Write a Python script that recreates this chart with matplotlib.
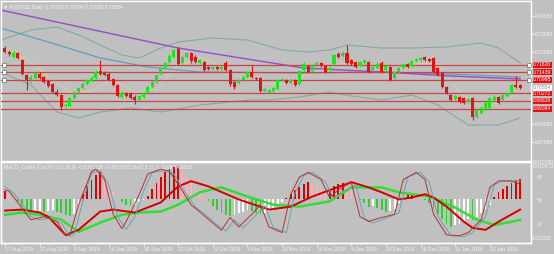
import numpy as np
import matplotlib.pyplot as plt
from matplotlib import transforms

plt.rcParams['font.family'] = ['Liberation Sans', 'DejaVu Sans']

# ---- daily bars AUDUSD ----
opens = [.7277, .7255, .7227, .7250, .7211, .7127, .7100, .7111, .7133, .7116,
         .7094, .7077, .7033, .7016, .6955, .6955, .7000, .7033, .7055, .7077,
         .7094, .7111, .7150, .7138, .7133, .7105, .7072, .7005, .7027, .7022,
         .7005, .6988, .7005, .7033, .7061, .7088, .7133, .7166, .7199, .7227,
         .7272, .7194, .7227, .7250, .7227, .7194, .7199, .7172, .7161, .7172,
         .7161, .7194, .7155, .7088, .7083, .7100, .7116, .7144, .7111, .7111,
         .7038, .7027, .7038, .7050, .7100, .7100, .7083, .7100, .7077, .7155,
         .7177, .7150, .7183, .7194, .7177, .7155, .7188, .7244, .7233, .7250,
         .7211, .7199, .7177, .7194, .7199, .7155, .7166, .7194, .7155, .7172,
         .7111, .7144, .7166, .7188, .7177, .7205, .7211, .7227, .7216, .7222,
         .7166, .7138, .7061, .7016, .6994, .7005, .7000, .6977, .7000, .6894,
         .6916, .6944, .6944, .6988, .7005, .6988, .7011, .7033, .7072, .70710]
highs = [.7288, .7266, .7261, .7255, .7216, .7133, .7127, .7150, .7144, .7122,
         .7100, .7083, .7050, .7022, .6972, .7005, .7038, .7061, .7088, .7105,
         .7122, .7155, .7211, .7150, .7144, .7111, .7077, .7038, .7033, .7033,
         .7016, .7016, .7033, .7066, .7094, .7133, .7172, .7199, .7244, .7272,
         .7283, .7233, .7255, .7255, .7238, .7216, .7205, .7177, .7177, .7177,
         .7183, .7205, .7161, .7094, .7105, .7122, .7150, .7183, .7116, .7116,
         .7055, .7050, .7061, .7105, .7111, .7105, .7105, .7105, .7155, .7199,
         .7183, .7188, .7205, .7199, .7183, .7177, .7244, .7255, .7261, .7294,
         .7216, .7205, .7205, .7216, .7205, .7177, .7199, .7205, .7183, .7177,
         .7150, .7172, .7194, .7194, .7211, .7222, .7227, .7233, .7222, .7227,
         .7172, .7144, .7066, .7022, .7016, .7011, .7005, .7000, .7005, .6938,
         .6955, .6977, .7005, .7016, .7011, .7022, .7033, .7077, .7122, .70794]
lows = [.7250, .7233, .7222, .7216, .7127, .7044, .7083, .7105, .7105, .7083,
        .7061, .7027, .7011, .6933, .6944, .6950, .6994, .7027, .7050, .7072,
        .7088, .7105, .7127, .7122, .7094, .7066, .7005, .7000, .7005, .6994,
        .6966, .6983, .7000, .7027, .7055, .7083, .7127, .7161, .7194, .7222,
        .7183, .7188, .7222, .7194, .7194, .7188, .7150, .7155, .7155, .7155,
        .7155, .7150, .7066, .7050, .7077, .7094, .7111, .7111, .7100, .7033,
        .7027, .7022, .7033, .7044, .7094, .7077, .7077, .7066, .7072, .7150,
        .7138, .7144, .7177, .7172, .7138, .7150, .7183, .7222, .7227, .7188,
        .7183, .7166, .7172, .7188, .7138, .7150, .7161, .7138, .7150, .7094,
        .7105, .7138, .7161, .7166, .7172, .7199, .7205, .7205, .7199, .7138,
        .7122, .7055, .7022, .6983, .6988, .6972, .6966, .6972, .6877, .6888,
        .6911, .6938, .6938, .6983, .6966, .6983, .7005, .7027, .7055, .70520]
closes = [.7255, .7244, .7250, .7222, .7133, .7100, .7116, .7138, .7111, .7088,
          .7066, .7033, .7016, .6950, .6961, .7000, .7033, .7055, .7077, .7100,
          .7111, .7144, .7133, .7127, .7100, .7072, .7011, .7027, .7011, .7000,
          .6988, .7011, .7027, .7061, .7088, .7127, .7166, .7194, .7233, .7266,
          .7188, .7227, .7250, .7205, .7199, .7211, .7155, .7161, .7172, .7161,
          .7172, .7155, .7077, .7061, .7100, .7116, .7144, .7116, .7105, .7038,
          .7050, .7044, .7055, .7100, .7105, .7083, .7100, .7072, .7150, .7188,
          .7144, .7177, .7194, .7177, .7144, .7166, .7238, .7227, .7250, .7194,
          .7188, .7172, .7199, .7211, .7144, .7172, .7188, .7144, .7177, .7100,
          .7144, .7166, .7188, .7172, .7205, .7216, .7222, .7211, .7205, .7144,
          .7127, .7061, .7027, .6988, .7011, .6977, .6972, .6994, .6894, .6933,
          .6944, .6972, .7000, .7005, .6972, .7016, .7027, .7072, .7061, .70554]

date_labels = ['17 Aug 2015', '27 Aug 2015', '8 Sep 2015', '18 Sep 2015', '30 Sep 2015',
               '12 Oct 2015', '22 Oct 2015', '3 Nov 2015', '13 Nov 2015', '25 Nov 2015',
               '4 Dec 2015', '16 Dec 2015', '28 Dec 2015', '11 Jan 2016', '21 Jan 2016']

# moving averages / bands, (bar, price) knots
ma_purple_x = [-1, 40, 69, 87, 103, 119]
ma_purple_y = [.74883, .72772, .71661, .71439, .71217, .71050]
ma_blue_x = [-1, 10, 22, 33, 45, 68, 87, 103, 119]
ma_blue_y = [.73883, .73106, .72217, .71717, .71439, .71384, .71439, .71328, .71161]
ma_fast_x = [0, 5, 10, 15, 20, 25, 30, 35, 40, 45, 50, 55, 60, 65, 70, 75, 80, 85, 90, 95,
             100, 105, 110, 115, 119]
ma_fast_y = [.7270, .7215, .7120, .7030, .7040, .7100, .7030, .7050, .7180, .7225, .7180, .7110,
             .7080, .7075, .7130, .7170, .7205, .7185, .7150, .7190, .7190, .7030, .6950, .6980, .7030]
bb_up_x = [-1, 6, 12, 17, 22, 27, 31, 36, 40, 48, 56, 64, 70, 75, 79, 87, 94, 102, 110, 114, 117, 119]
bb_up_y = [.73217, .73772, .73939, .73494, .72939, .72383, .72217, .72772, .73106, .73328, .73217,
           .72661, .72550, .72661, .72939, .72772, .72772, .72828, .73050, .72772, .72272, .71939]
bb_lo_x = [-1, 6, 12, 17, 22, 29, 36, 45, 52, 57, 61, 68, 75, 80, 87, 94, 100, 107, 114, 119]
bb_lo_y = [.71439, .70717, .69217, .68884, .69217, .69439, .69217, .69606, .69773, .69884, .69884,
           .70050, .70328, .70106, .69884, .70161, .69606, .68495, .68495, .68884]

levels = [.71828, .71439, .70995, .70272, .69828, .69384]
price_ticks = [.74550, .73550, .72550, .68550, .67550]

# MACD_OsMA histogram and lines, in units of 1e-4
osma = [25, 16, 6, -6, -19, -34, -40, -37, -34, -37, -34, -31, -37, -40, -47, -50, -43, -19, 16, 40,
        59, 74, 84, 68, 47, 25, 6, -9, -16, -19, -16, -9, -3, 12, 31, 50, 68, 84, 93, 99,
        102, 87, 68, 53, 40, 31, 12, -6, -19, -31, -40, -47, -50, -47, -40, -37, -31, -34, -40, -43,
        -40, -34, -28, -19, -9, 3, 16, 28, 37, 47, 53, 50, 40, 31, 25, 31, 40, 47, 50, 43,
        31, 16, -3, -12, -22, -19, -25, -31, -37, -34, -28, -12, 6, 16, 19, 12, 6, -3, -12, -28,
        -43, -59, -74, -84, -78, -74, -68, -59, -62, -53, -40, -28, -16, 9, 22, 31, 40, 50, 59, 62]
macd_x = [0, 4, 8, 10, 14, 17, 22, 25, 30, 36, 40, 43, 47, 54, 61, 66, 71, 80, 84, 87, 91, 94, 97, 99,
          102, 106, 108, 111, 114, 119]
macd_y = [-34, -31, -40, -53, -109, -93, -37, -31, -40, -9, 40, 56, 40, 0, -31, -22, 9, 53, 37, 22,
          0, 6, 16, 6, -22, -68, -87, -93, -68, -31]
signal_x = [0, 4, 8, 13, 17, 22, 27, 31, 36, 40, 45, 50, 56, 62, 68, 75, 80, 87, 91, 98, 104, 109,
            113, 116, 119]
signal_y = [-47, -40, -47, -62, -99, -71, -47, -40, -37, -16, 22, 37, 9, -16, -22, -6, 37, 37, 22, 9,
            -25, -62, -78, -71, -62]

# Stochastic (5,3,3)
sto_x = [0, 1, 5, 6, 9, 12, 14, 15, 17, 20, 21, 23, 25, 27, 28, 31, 33, 36, 38, 40, 43, 45, 48, 50,
         52, 54, 57, 59, 61, 64, 66, 68, 70, 73, 75, 77, 80, 82, 84, 87, 90, 92, 95, 97, 99, 102,
         105, 107, 110, 112, 114, 117, 119]
sto_y = [64, 62, 33, 26, 30, 24, 6, 7, 45, 87, 90, 77, 33, 15, 24, 58, 84, 90, 87, 71, 45, 36, 22, 13,
         29, 17, 33, 45, 17, 10, 58, 80, 86, 77, 54, 64, 73, 30, 24, 29, 33, 77, 86, 77, 33, 7,
         6, 10, 26, 67, 75, 75, 71]
sig_x = [0, 2, 6, 8, 10, 13, 15, 16, 18, 20, 22, 24, 26, 28, 30, 32, 34, 37, 39, 41, 44, 46, 49, 51,
         53, 55, 58, 60, 62, 65, 67, 69, 71, 74, 76, 78, 81, 83, 85, 88, 91, 93, 96, 98, 100, 103,
         106, 108, 111, 113, 115, 118, 119]
sig_y = [68, 60, 30, 26, 28, 22, 5, 8, 50, 85, 88, 70, 30, 14, 30, 62, 86, 88, 84, 66, 42, 34, 20, 12,
         26, 16, 32, 44, 16, 10, 60, 82, 86, 74, 52, 62, 70, 28, 22, 28, 35, 80, 86, 74, 30, 6,
         5, 10, 30, 70, 76, 75, 75]

bg = '#c0c0c0'
fg = '#f4f4f4'
bull, bear = '#22e022', '#e01414'
lvl_col = '#cc4444'
fs = 3.6

W, H = 554, 254
fig = plt.figure(figsize=(W / 100, H / 100), dpi=100)
fig.patch.set_facecolor(bg)
ax = fig.add_axes([1 / W, (H - 161) / H, 530 / W, 160 / H])
ax2 = fig.add_axes([1 / W, 11 / H, 530 / W, 81 / H])
axm = ax2.twinx()

n = len(closes)
idx = np.arange(n)
o, h, l, c = map(np.array, (opens, highs, lows, closes))
up = c >= o
cols = np.where(up, bull, bear)

ax.set_facecolor(bg)
ax.set_xlim(-0.92, 121.5)
ax.set_ylim(0.75439 - 161 / 1800, 0.75439 - 1 / 1800)

# bands / MAs
for xs, ys in [(bb_up_x, bb_up_y), (bb_lo_x, bb_lo_y)]:
    ax.plot(xs, ys, color='#86a8a4', lw=0.8, zorder=2)
ax.plot(ma_fast_x, ma_fast_y, color='#dede8c', lw=0.7, ls=(0, (2, 1)), zorder=2)
ax.plot(ma_blue_x, ma_blue_y, color='#5f9fc0', lw=0.9, zorder=2)
ax.plot(ma_purple_x, ma_purple_y, color='#9050c8', lw=1.0, zorder=2)

for lv in levels:
    ax.axhline(lv, color=lvl_col, lw=0.9, zorder=3)
for lv in levels[:3]:
    ax.plot([-0.3, 121.0], [lv, lv], ls='none', marker='s', ms=2.2,
            mfc='white', mec='#555555', mew=0.4, zorder=4)

# candles
ax.vlines(idx, l, h, colors=cols, lw=0.8, zorder=5)
ax.bar(idx, np.maximum(np.abs(c - o), 0.00012), bottom=np.minimum(o, c),
       width=0.7, color=cols, linewidth=0, zorder=6)

ax.yaxis.tick_right()
ax.set_yticks(price_ticks)
ax.set_yticklabels(['%.5f' % v for v in price_ticks])
ax.tick_params(axis='y', colors=fg, labelsize=fs, length=2, width=0.6, pad=1)
ax.set_xticks([])
for s in ax.spines.values():
    s.set_color('white')
    s.set_linewidth(1)

tr = transforms.blended_transform_factory(ax.transAxes, ax.transData)
for lv in levels:
    ax.text(1.004, lv, '%.5f' % lv, transform=tr, fontsize=fs, color='white',
            va='center', ha='left', clip_on=False, zorder=10,
            bbox=dict(boxstyle='square,pad=0.12', fc='#e81010', ec='none'))
ax.text(1.004, closes[-1], '%.5f' % closes[-1], transform=tr, fontsize=fs, color='#909090',
        va='center', ha='left', clip_on=False, zorder=10,
        bbox=dict(boxstyle='square,pad=0.12', fc='white', ec='none'))

ax.text(0.004, 0.978, '\u25bc AUDUSD,Daily  %.5f %.5f %.5f %.5f' % (opens[-1], highs[-1], lows[-1], closes[-1]),
        transform=ax.transAxes, fontsize=fs, color=fg, va='top', ha='left')

# lower window
ax2.set_facecolor(bg)
ax2.set_xlim(-0.92, 121.5)
ax2.set_ylim(-3.2, 99)
axm.set_ylim(-133.3, 114.7)

prev = np.r_[osma[0], osma[:-1]]
oa = np.array(osma)
hcol = np.where(oa >= 0, np.where(oa >= prev, '#e00000', '#ffb0b8'),
                np.where(oa <= prev, '#33cc33', '#ffffff'))
axm.bar(idx, oa, width=0.42, color=hcol, linewidth=0, zorder=2)
axm.plot(signal_x, signal_y, color='#33dd33', lw=1.8, zorder=4)
axm.plot(macd_x, macd_y, color='#d00000', lw=1.4, zorder=5)
ax2.plot(sig_x, sig_y, color='#5fa8b0', lw=0.7, zorder=3)
ax2.plot(sto_x, sto_y, color='#b83030', lw=0.7, zorder=3)
ax2.set_zorder(axm.get_zorder() + 1)
ax2.patch.set_visible(False)
axm.patch.set_facecolor(bg)
axm.set_yticks([])
ax2.set_yticks([])

ax2.set_xticks(range(0, 8 * len(date_labels), 8))
ax2.set_xticklabels(date_labels)
for t in ax2.get_xticklabels():
    t.set_horizontalalignment('left')
ax2.tick_params(axis='x', colors=fg, labelsize=fs, length=2, width=0.6, pad=1)
for a in (ax2, axm):
    for s in a.spines.values():
        s.set_color('white')
        s.set_linewidth(1)

ax2.text(0.006, 0.965, 'MACD_OsMA [ConTF] (12,26,9) -0.0007138 -0.0007033 Sto(5,3,3) 71.2169 74.8825',
         transform=ax2.transAxes, fontsize=fs, color=fg, va='top', ha='left')

tr2 = transforms.blended_transform_factory(ax2.transAxes, ax2.transData)
for v in (80, 50, 20):
    ax2.text(1.01, v, str(v), transform=tr2, fontsize=fs, color=fg, va='center', ha='left')
ax2.text(1.004, 1.0, '0.012290', transform=ax2.transAxes, fontsize=fs, color=fg, va='center', ha='left')
ax2.text(1.004, 0.94, '0.010472', transform=ax2.transAxes, fontsize=fs, color=fg, va='center', ha='left')
ax2.text(1.002, 0.05, '-0.01232', transform=ax2.transAxes, fontsize=fs, color=fg, va='center', ha='left')

fig.savefig('out.png', dpi=100, facecolor=bg)
